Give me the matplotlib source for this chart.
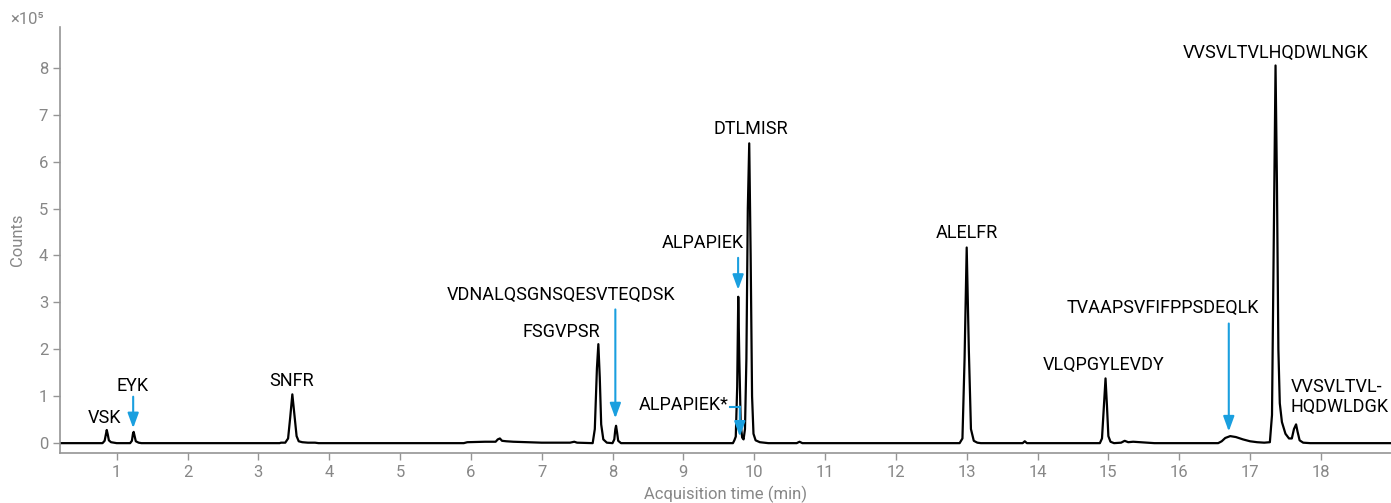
import matplotlib
matplotlib.use("Agg")
import matplotlib.pyplot as plt

plt.rcParams['font.family'] = ['Roboto', 'DejaVu Sans']

# chromatogram trace (time in min, counts in 1e5)
time = [0.20, 0.80, 0.83, 0.85, 0.86, 0.875, 0.89, 0.92, 0.96, 1.00,
        1.19, 1.215, 1.23, 1.24, 1.255, 1.27, 1.31, 1.35,
        3.30, 3.32, 3.38, 3.42, 3.45, 3.48, 3.51, 3.54, 3.57, 3.62, 3.70, 3.80, 3.85,
        5.90, 5.95, 6.20, 6.35, 6.38, 6.41, 6.44, 6.50, 6.60, 6.80, 7.00,
        7.40, 7.46, 7.50,
        7.72, 7.75, 7.78, 7.80, 7.82, 7.84, 7.87, 7.92,
        8.00, 8.025, 8.04, 8.05, 8.065, 8.08, 8.12,
        9.70, 9.72, 9.74, 9.76, 9.775, 9.79, 9.81, 9.83, 9.85, 9.87, 9.89,
        9.91, 9.93, 9.95, 9.97, 9.99, 10.02, 10.08, 10.20,
        10.60, 10.64, 10.68,
        12.90, 12.94, 12.97, 13.00, 13.03, 13.06, 13.10, 13.15, 13.20,
        13.79, 13.82, 13.85,
        14.88, 14.91, 14.94, 14.96, 14.98, 15.00, 15.03, 15.08,
        15.18, 15.23, 15.28, 15.35, 15.45, 15.55, 15.65,
        16.55, 16.60, 16.65, 16.72, 16.80, 16.90, 17.00, 17.10, 17.20,
        17.28, 17.31, 17.34, 17.36, 17.38, 17.40, 17.42, 17.45, 17.50, 17.55,
        17.59, 17.62, 17.65, 17.67, 17.70, 17.75, 17.85, 19.00]
counts = [0.00, 0.00, 0.05, 0.20, 0.28, 0.18, 0.06, 0.02, 0.01, 0.00,
          0.00, 0.05, 0.20, 0.24, 0.14, 0.04, 0.01, 0.00,
          0.00, 0.01, 0.01, 0.10, 0.55, 1.04, 0.60, 0.15, 0.04, 0.02, 0.01, 0.01, 0.00,
          0.00, 0.02, 0.03, 0.03, 0.08, 0.10, 0.05, 0.04, 0.03, 0.02, 0.01,
          0.01, 0.03, 0.01,
          0.00, 0.30, 1.60, 2.11, 1.40, 0.40, 0.08, 0.01,
          0.00, 0.08, 0.30, 0.37, 0.22, 0.05, 0.00,
          0.00, 0.06, 0.14, 1.20, 3.12, 1.80, 0.40, 0.12, 0.08, 0.30, 1.80,
          5.00, 6.39, 4.00, 1.00, 0.20, 0.06, 0.02, 0.00,
          0.00, 0.03, 0.00,
          0.00, 0.10, 1.80, 4.17, 2.00, 0.30, 0.05, 0.01, 0.00,
          0.00, 0.04, 0.00,
          0.00, 0.10, 0.85, 1.38, 0.80, 0.15, 0.03, 0.00,
          0.01, 0.05, 0.02, 0.03, 0.02, 0.01, 0.00,
          0.00, 0.04, 0.11, 0.15, 0.13, 0.08, 0.04, 0.02, 0.01,
          0.02, 0.60, 5.00, 8.05, 5.50, 2.00, 0.85, 0.45, 0.20, 0.10,
          0.10, 0.30, 0.40, 0.25, 0.06, 0.01, 0.00, 0.00]

# peak labels: text, x, y, horizontal alignment
labels = ["VSK", "EYK", "SNFR", "FSGVPSR", "VDNALQSGNSQESVTEQDSK", "ALPAPIEK",
          "ALPAPIEK*", "DTLMISR", "ALELFR", "VLQPGYLEVDY", "TVAAPSVFIFPPSDEQLK",
          "VVSVLTVLHQDWLNGK", "VVSVLTVL-\nHQDWLDGK"]
label_x = [0.83, 1.23, 3.475, 7.28, 7.28, 9.27, 9.01, 9.95, 13.0, 14.93,
           15.77, 17.36, 17.57]
label_y = [0.53, 1.22, 1.33, 2.37, 3.16, 4.27, 0.82, 6.69, 4.48, 1.67,
           2.88, 8.31, 0.99]
label_ha = ["center"] * 12 + ["left"]

# blue arrows: x, start y, tip y
arrow_x = [1.233, 8.04, 9.773, 9.797, 16.70]
arrow_y0 = [0.99, 2.85, 3.95, 0.78, 2.55]
arrow_y1 = [0.32, 0.53, 3.27, 0.14, 0.25]

grey = "#878787"
blue = "#1a9fdf"

fig = plt.figure(figsize=(13.91, 5.03), dpi=100)
ax = fig.add_axes([60 / 1391, 1 - 453 / 503, 1 - 60 / 1391, (453 - 27) / 503])

ax.plot(time, counts, color="k", linewidth=1.6, solid_joinstyle="round")

for txt, x, y, ha in zip(labels, label_x, label_y, label_ha):
    ax.text(x, y, txt, ha=ha, va="center", fontsize=13, color="k",
            linespacing=1.15)

for x, y0, y1 in zip(arrow_x, arrow_y0, arrow_y1):
    ax.annotate("", xy=(x, y1), xytext=(x, y0),
                arrowprops=dict(arrowstyle="-|>,head_length=0.6,head_width=0.22",
                                mutation_scale=15, color=blue, lw=1.5,
                                shrinkA=0, shrinkB=0))
# elbow leading into the ALPAPIEK* arrow
ax.plot([9.66, arrow_x[3]], [arrow_y0[3], arrow_y0[3]], color=blue, lw=1.5)

ax.set_xlim(0.2, 18.99)
ax.set_ylim(-0.21, 8.87)
ax.set_xticks(range(1, 19))
ax.set_yticks(range(0, 9))

for s in ["top", "right"]:
    ax.spines[s].set_visible(False)
for s in ["left", "bottom"]:
    ax.spines[s].set_color("#959595")
    ax.spines[s].set_linewidth(1.2)
ax.tick_params(colors="#959595", labelcolor=grey, labelsize=12, length=5,
               width=1.0)

ax.set_xlabel("Acquisition time (min)", fontsize=12, color=grey, labelpad=4)
ax.set_ylabel("Counts", fontsize=12, color=grey, labelpad=10)
fig.text(10 / 1391, 1 - 20 / 503, "\u00d710\u2075", fontsize=12, color=grey,
         va="center", ha="left")

fig.savefig("out.png", dpi=100)
